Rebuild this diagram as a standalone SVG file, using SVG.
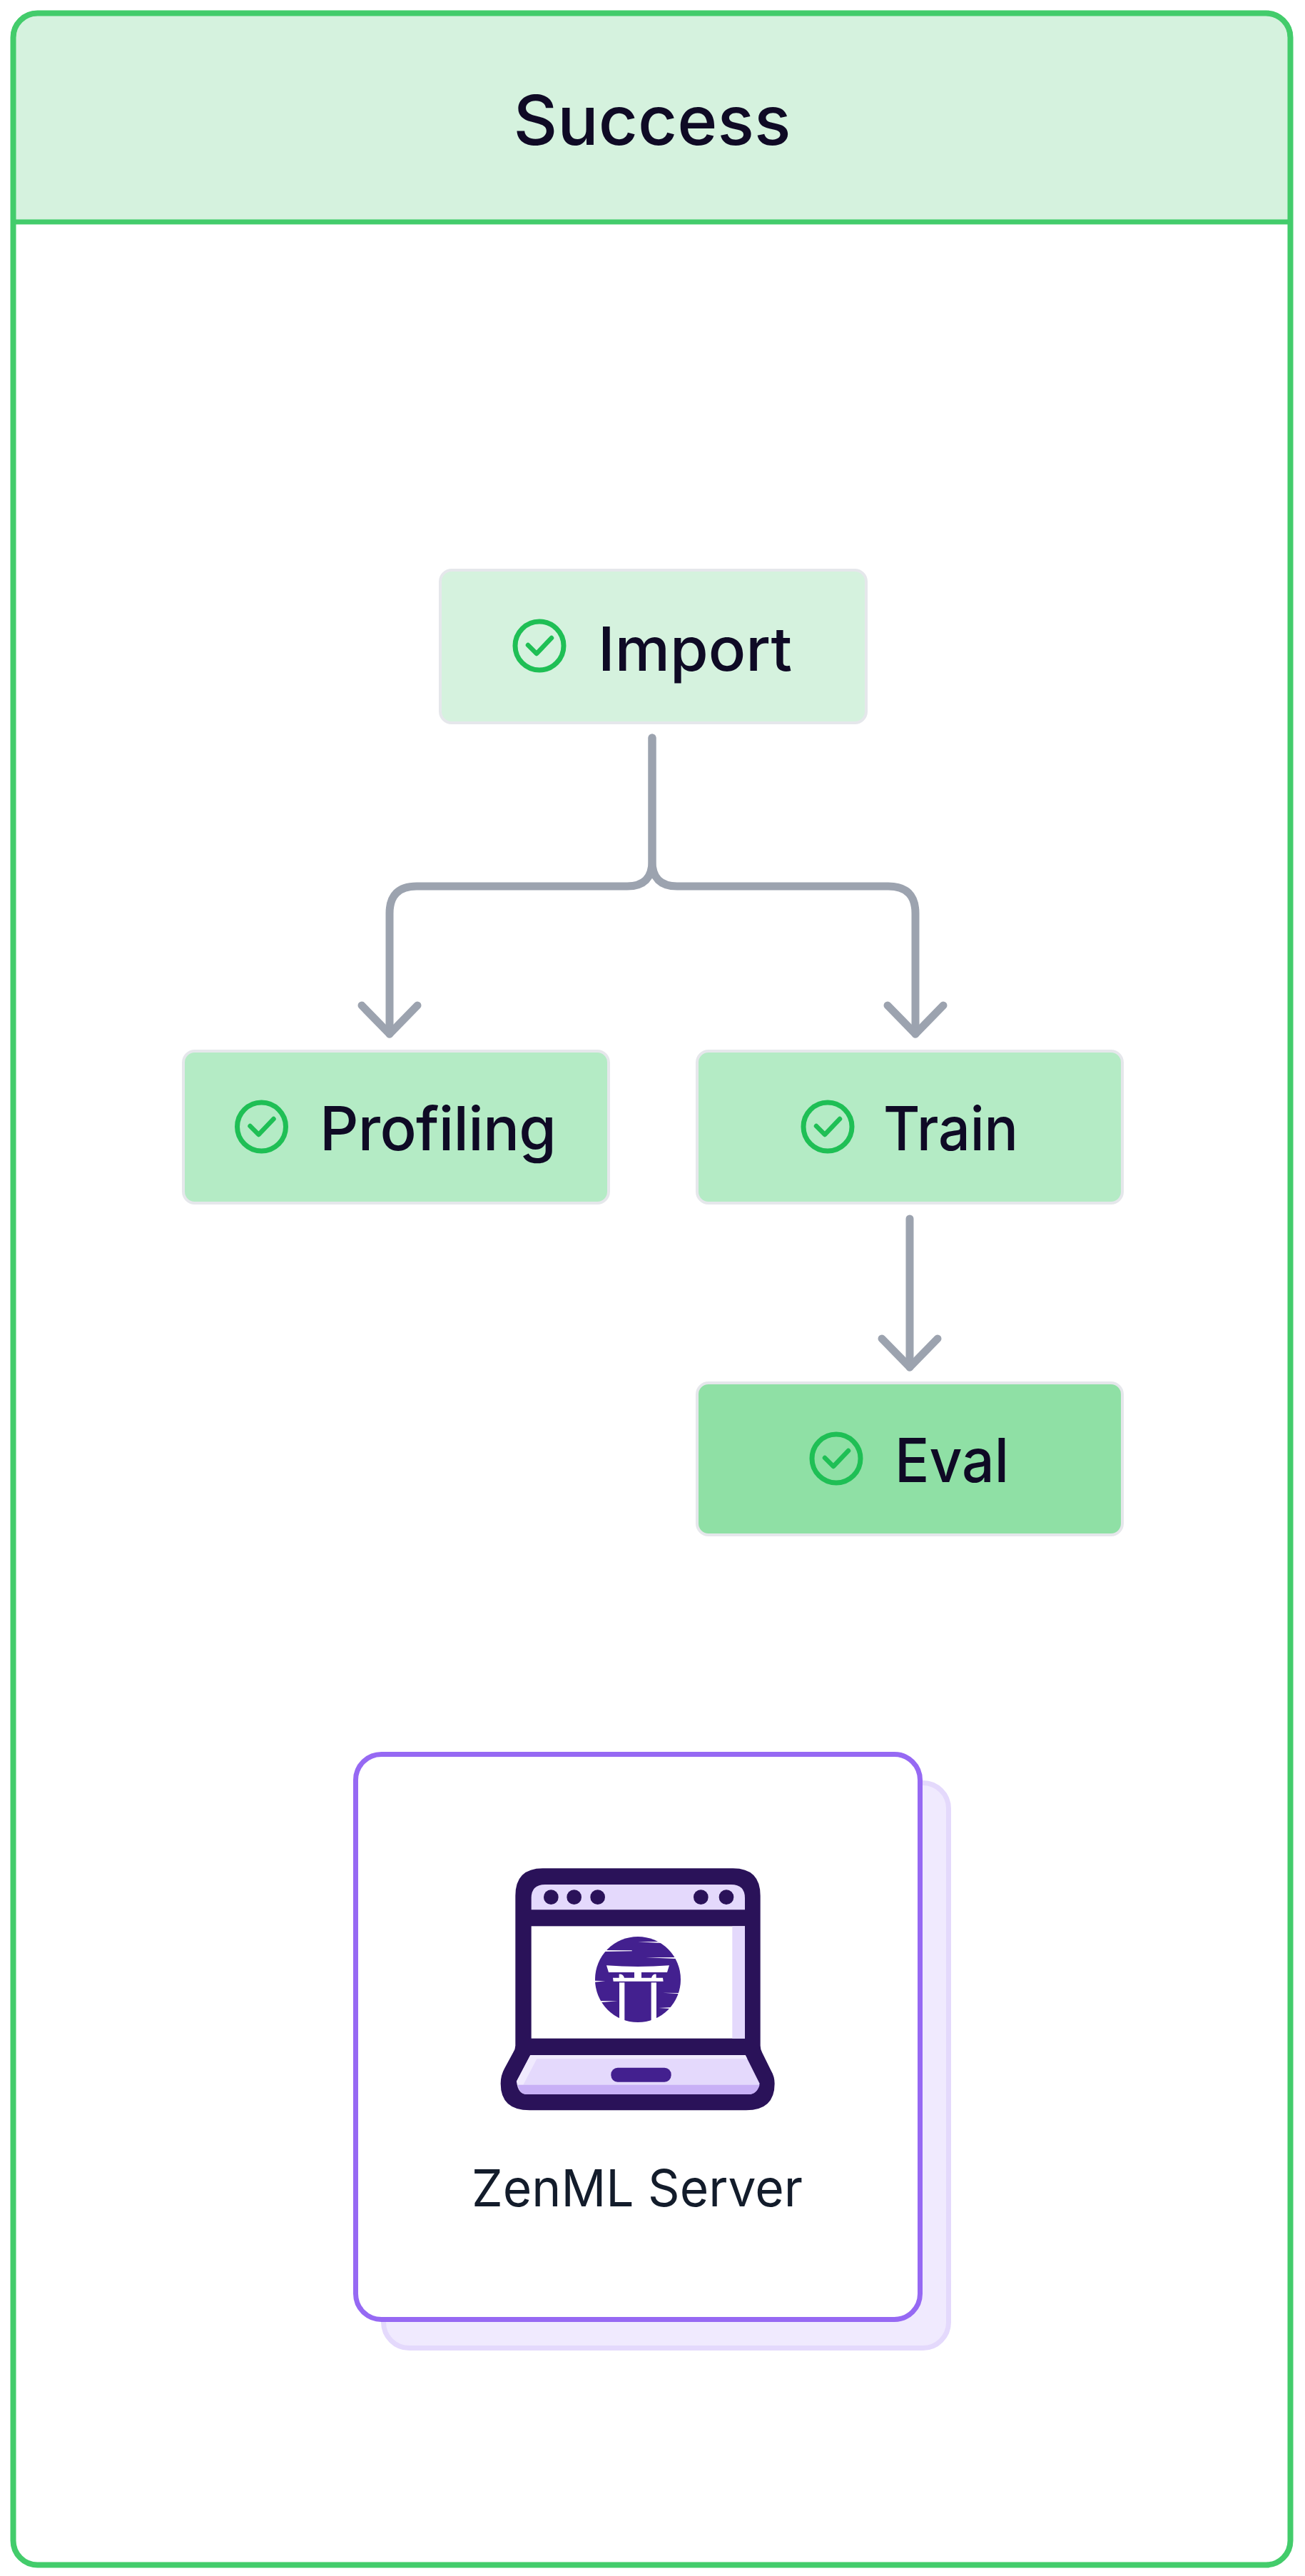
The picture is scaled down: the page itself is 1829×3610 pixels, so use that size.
<svg xmlns="http://www.w3.org/2000/svg" width="1829" height="3610" viewBox="0 0 1829 3610">
<style>
.t{font-family:"Inter","Liberation Sans",sans-serif;font-weight:500;fill:#0f0a25;font-size:85px}
.n{stroke:#e5e7eb;stroke-width:4}
.c{stroke:#9ca3af;stroke-width:11;fill:none;stroke-linecap:round;stroke-linejoin:round}
.ci{fill:none;stroke:#1fbf55;stroke-width:7}
.ck{fill:none;stroke:#1fbf55;stroke-width:6.500;stroke-linecap:round;stroke-linejoin:round}
.w{fill:#fff}
</style>
<defs>
<marker id="a" markerUnits="userSpaceOnUse" markerWidth="100" markerHeight="100" viewBox="-90 -50 100 100" refX="0" refY="0" orient="auto">
<path d="M-40,-39 L0,0 L-40,39" fill="none" stroke="#9ca3af" stroke-width="11" stroke-linecap="round" stroke-linejoin="round"/>
</marker>
<g id="check"><circle r="34" class="ci"/><path d="M-16,-1 L-4,11 L17,-11" class="ck"/></g>
</defs>
<rect width="1829" height="3610" fill="#fff"/>
<g id="frame">
<rect x="18.500" y="18.500" width="1790" height="3576" rx="34" fill="#fff"/>
<path d="M52.500,18.500 H1774.500 A34,34 0 0 1 1808.500,52.500 V311 H18.500 V52.500 A34,34 0 0 1 52.500,18.500Z" fill="#d5f2de" stroke="#43cc6b" stroke-width="7"/>
<rect x="18.500" y="18.500" width="1790" height="3576" rx="34" fill="none" stroke="#43cc6b" stroke-width="8"/>
<text x="914" y="203" text-anchor="middle" class="t" style="font-size:96px" textLength="389" lengthAdjust="spacingAndGlyphs">Success</text>
</g>
<g id="connectors">
<path class="c" d="M914,1034 V1207 Q914,1242 879,1242 H584 Q546,1242 546,1280 V1449" marker-end="url(#a)"/>
<path class="c" d="M914,1034 V1207 Q914,1242 949,1242 H1245 Q1283,1242 1283,1280 V1449" marker-end="url(#a)"/>
<path class="c" d="M1275,1708 V1916" marker-end="url(#a)"/>
</g>
<g id="node-import">
<rect class="n" x="617" y="799" width="597" height="214" rx="16" fill="#d5f2de"/>
<use href="#check" x="756" y="905"/>
<text x="838" y="940" class="t" textLength="272" lengthAdjust="spacingAndGlyphs">Import</text>
</g>
<g id="node-profiling">
<rect class="n" x="257" y="1473" width="596" height="213" rx="16" fill="#b4ebc5"/>
<use href="#check" x="366.500" y="1579"/>
<text x="448" y="1612" class="t" textLength="332" lengthAdjust="spacing">Profiling</text>
</g>
<g id="node-train">
<rect class="n" x="977" y="1473" width="596" height="213" rx="16" fill="#b4ebc5"/>
<use href="#check" x="1160" y="1579"/>
<text x="1238" y="1612" class="t" textLength="189" lengthAdjust="spacingAndGlyphs">Train</text>
</g>
<g id="node-eval">
<rect class="n" x="977" y="1938" width="596" height="213" rx="16" fill="#8fe0a5"/>
<use href="#check" x="1172" y="2044"/>
<text x="1254" y="2077" class="t" textLength="160" lengthAdjust="spacingAndGlyphs">Eval</text>
</g>
<g id="node-server">
<rect x="537.500" y="2498.500" width="792" height="792" rx="36" fill="#f0eafe" stroke="#e4d9fc" stroke-width="7"/>
<rect x="498.500" y="2458.500" width="791" height="792" rx="36" fill="#fff" stroke="#9669f3" stroke-width="7"/>
<g transform="translate(679,2600) scale(0.33333)">
<path fill="#2a1259" d="M245,55 H1045 Q1160,55 1160,170 V800 Q1160,815 1168,830 L1205,905 Q1220,930 1220,960 Q1220,1072 1100,1072 H190 Q68,1072 68,960 Q68,925 85,895 L120,830 Q130,815 130,800 V170 Q130,55 245,55Z"/>
<path fill="#e4d9fc" d="M197,229 V180 Q197,123 255,123 H1037 Q1095,123 1095,180 V229Z"/>
<g fill="#2a1259"><circle cx="280" cy="176" r="31"/><circle cx="377" cy="176" r="31"/><circle cx="476" cy="176" r="31"/><circle cx="910" cy="176" r="31"/><circle cx="1017" cy="176" r="31"/></g>
<rect class="w" x="197" y="298" width="898" height="472"/>
<rect x="1042" y="298" width="53" height="472" fill="#e4d9fc"/>
<circle cx="645" cy="522" r="180" fill="#43208f"/>
<g class="w">
<path d="M513,463 Q645,473 777,463 L768,492 H522Z"/>
<path d="M540,515 H566 V500 Q582,498 588,515 H630 V492 H660 V515 H702 Q708,498 722,500 V515 H750 L752,530 H542Z"/>
<rect x="567" y="535" width="22" height="160"/>
<rect x="701" y="535" width="22" height="160"/>
<path d="M645,364 L730,363 L745,369 Z"/>
<path d="M505,399 L620,400 L620,403 L500,405Z"/>
<path d="M678,430 L800,429 L810,435Z"/>
<path d="M462,527 L508,529 L462,533Z"/>
<path d="M750,578 L825,579 L825,583Z"/>
<path d="M490,612 L560,613 L490,618Z"/>
<path d="M733,642 L785,639 L785,645Z"/>
</g>
<path fill="#e4d9fc" d="M193,840 H1097 L1157,960 Q1145,1005 1110,1005 H180 Q140,1005 135,950Z"/>
<path fill="#f0eafe" d="M193,840 H1097 L1105,856 H220 L163,965 H140 L135,950Z"/>
<path fill="#c8b0f6" d="M140,965 H1157 Q1145,1005 1110,1005 H180 Q148,1005 140,965Z"/>
<rect x="532" y="893" width="253" height="60" rx="28" fill="#43208f"/>
</g>
<text x="893" y="3092" text-anchor="middle" class="t" style="font-size:72px;font-weight:400;fill:#131c2b" textLength="464" lengthAdjust="spacingAndGlyphs">ZenML Server</text>
</g>
</svg>
